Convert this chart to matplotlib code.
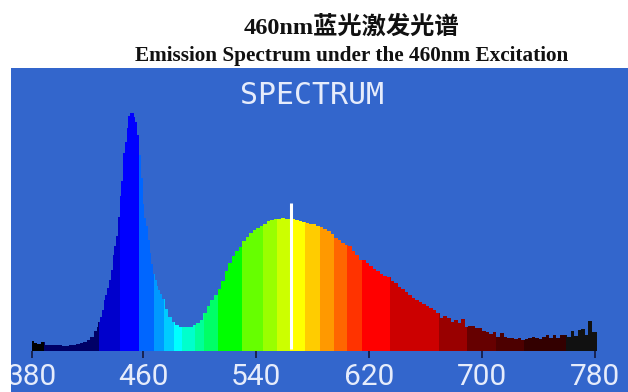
import numpy as np
import matplotlib
matplotlib.use("Agg")
import matplotlib.pyplot as plt
from matplotlib.colors import ListedColormap

# left tail, 2.5 nm steps from 381.5
tail_left_nm = np.arange(381.5, 425, 2.5)
tail_left = [10,8,7,9,6,6,6,6,6,5,5,6,6,7,8,9,11,14]
# blue peak, 1.25 nm steps from 426.5
peak_nm = 426.5 + 1.25 * np.arange(38)
peak = [20,24,29,34,41,51,56,63,71,81,96,105,115,134,155,170,198,209,223,235,238,238,234,229,216,196,173,147,133,125,
        111,98,87,77,71,65,61,57]
# phosphor band and right tail, 2.5 nm steps from 474
broad_nm = 474 + 2.5 * np.arange(124)
broad = [52,42,34,29,26,24,24,24,24,26,28,31,38,45,51,56,62,70,80,88,95,100,104,110,114,118,121,123,125,127,
         130,131,132,132,133,132,132,132,131,130,129,128,127,127,125,124,122,120,117,113,111,108,106,
         105,100,96,91,91,88,85,82,80,77,75,74,70,68,64,62,59,56,53,51,49,47,45,43,41,38,33,35,33,29,
         31,28,32,24,25,25,23,23,20,19,17,19,14,18,14,13,13,12,13,11,12,13,14,13,12,14,16,13,16,13,
         16,16,14,20,15,21,22,16,30,19,19]
wavelengths = np.concatenate([tail_left_nm, peak_nm, broad_nm])
heights = np.array(tail_left + peak + broad, dtype=float)

band_edges = [381.4,389.9,428.8,443.7,457.2,467.8,474.9,481.9,487.6,496.8,503.2,513.1,530.1,545,
              554.9,564.1,574.7,585.3,595.2,604.4,615,634.9,669.6,689.4,709.9,729.7,759.5,781.4]
band_colors = ['#000000','#000066','#0000cc','#0000ff','#0066ff','#0099ff','#00ccff','#00ffff','#00ffcc',
               '#00ff99','#00ff66','#00ff00','#66ff00','#99ff00','#ccff00','#ffff00','#ffcc00','#ff9900',
               '#ff6600','#ff3300','#ff0000','#cc0000','#990000','#660000','#4d0000','#330000','#111111']
tick_pos = [381.4,460,540,620,700,780]
tick_labels = ['380','460','540','620','700','780']
marker_nm = 564.8
marker_top = 148

W, H = 628, 392
fig = plt.figure(figsize=(W/100, H/100), dpi=100, facecolor='white')
ax = fig.add_axes([11/W, 0, 617/W, 324/H], facecolor='#3366CC')
ax.set_xlim(366.5, 803.4)
ax.set_ylim(-41, 283)

env = ax.fill_between(wavelengths, 0, heights, step='mid', facecolor='none', edgecolor='none')
mesh = ax.pcolormesh(band_edges, [0, heights.max()+2], np.arange(len(band_colors)).reshape(1, -1),
                     cmap=ListedColormap(band_colors), vmin=-0.5, vmax=len(band_colors)-0.5)
mesh.set_clip_path(env.get_paths()[0], ax.transData)

ax.vlines(marker_nm, 2, marker_top, color='white', lw=2.2, zorder=4)

for s in ax.spines.values():
    s.set_visible(False)
ax.spines['bottom'].set_position(('data', 0))
ax.set_yticks([])
ax.set_xticks(tick_pos, tick_labels)
ax.tick_params(axis='x', direction='out', length=5, width=1.1, color='#101030', pad=3.6)
for t in ax.get_xticklabels():
    t.set_fontfamily(['Liberation Sans Narrow', 'Roboto'])
    t.set_fontsize(21.5)
    t.set_color('#e6ecfb')
    t.set_clip_on(True)
    t.set_clip_box(ax.bbox)

fig.text(312/W, 1-95/H, 'SPECTRUM', family='DejaVu Sans Mono', fontsize=21.5, color='#e6ecfb',
         ha='center', va='center')
fig.text(351/W, 1-27/H, '460nm蓝光激发光谱', family=['Liberation Serif', 'Noto Sans CJK SC'],
         fontsize=17.5, weight='bold', color='#111111', ha='center', va='center')
fig.text(351.5/W, 1-56.5/H, 'Emission Spectrum under the 460nm Excitation', family='Liberation Serif',
         fontsize=15.3, weight='bold', color='#111111', ha='center', va='center')
fig.savefig('out.png', dpi=100)
